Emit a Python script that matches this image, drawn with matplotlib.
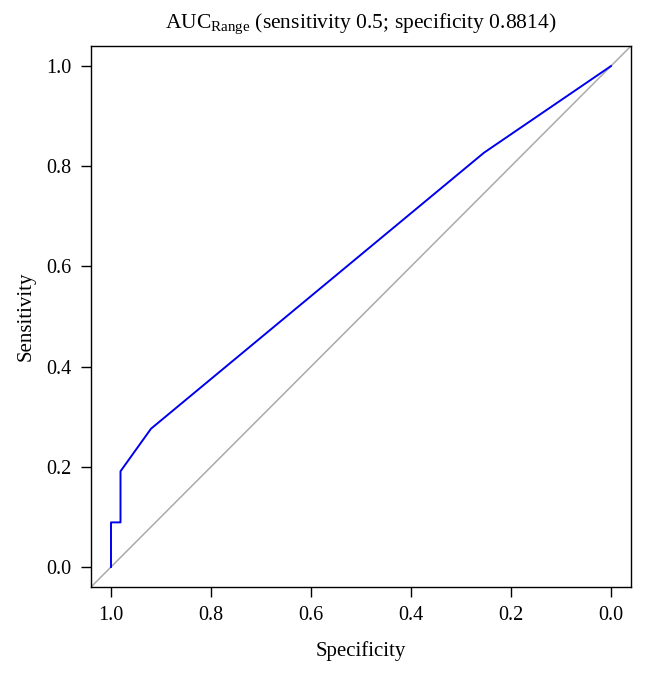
import matplotlib
matplotlib.use("Agg")
import matplotlib.pyplot as plt
import numpy as np

# ROC curve (specificity, sensitivity)
specificity = [1.0, 1.0, 0.981, 0.981, 0.92, 0.254, 0.0]
sensitivity = [0.0, 0.089, 0.089, 0.191, 0.276, 0.827, 1.0]
ticks = [1.0, 0.8, 0.6, 0.4, 0.2, 0.0]
tick_labels = ["1.0", "0.8", "0.6", "0.4", "0.2", "0.0"]

plt.rcParams['font.family'] = ['Liberation Serif', 'DejaVu Serif']
plt.rcParams['mathtext.fontset'] = 'custom'
plt.rcParams['mathtext.rm'] = 'Liberation Serif'
plt.rcParams['mathtext.it'] = 'Liberation Serif:italic'

fig = plt.figure(figsize=(6.46, 6.73), dpi=100)
ax = fig.add_axes([91/646, 86/673, 540/646, 541/673])

# reference diagonal spans the whole plot region
ax.plot([1.04, -0.04], [-0.04, 1.04], color='#aaaaaa', lw=1.1, zorder=1)
ax.plot(specificity, sensitivity, color='#0000ee', lw=1.4, zorder=2)

ax.set_xlim(1.04, -0.04)
ax.set_ylim(-0.04, 1.04)
ax.set_xticks(ticks)
ax.set_xticklabels(tick_labels)
ax.set_yticks(ticks)
ax.set_yticklabels(tick_labels)
ax.tick_params(direction='out', length=7, width=1, labelsize=14.5, pad=7)

for s in ax.spines.values():
    s.set_linewidth(1)

ax.set_xlabel("Specificity", fontsize=15, labelpad=11)
ax.set_ylabel("Sensitivity", fontsize=15, labelpad=8)
ax.set_title(r"AUC$_{\mathrm{Range}}$ (sensitivity 0.5; specificity 0.8814)",
             fontsize=15.5, pad=13)

fig.savefig("out.png", dpi=100)
